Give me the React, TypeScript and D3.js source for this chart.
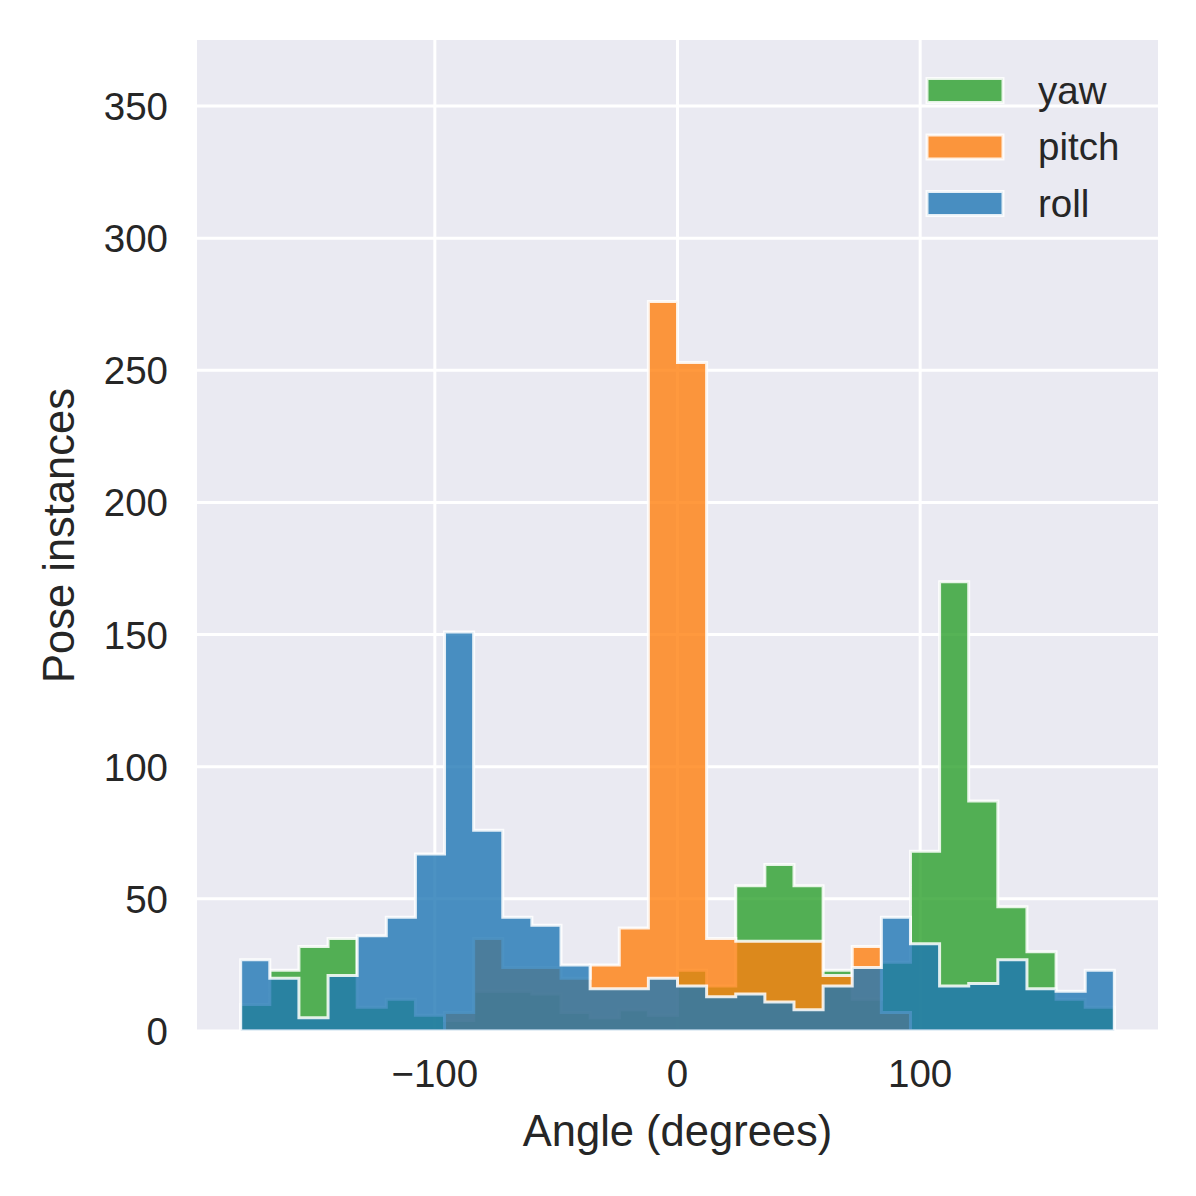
import React from 'react';
import { area, curveStepAfter, range, scaleLinear } from 'd3';

// histogram counts, 30 bins of 12 degrees from -180 to 180
const binEdges = range(-180, 181, 12);
const yawCounts = [10, 23, 32, 35, 9, 12, 6, 4, 15, 15, 14, 7, 5, 8, 6, 23, 17, 55, 63, 55, 23, 12, 26, 68, 170, 87, 47, 30, 12, 9];
const pitchCounts = [0, 0, 0, 0, 0, 0, 0, 7, 35, 24, 24, 20, 25, 39, 276, 253, 35, 34, 34, 34, 21, 32, 7, 0, 0, 0, 0, 0, 0, 0];
const rollCounts = [27, 20, 5, 21, 36, 43, 67, 151, 76, 43, 40, 25, 16, 16, 20, 17, 13, 14, 11, 8, 17, 24, 43, 33, 17, 18, 27, 16, 15, 23];

const seriesNames = ['yaw', 'pitch', 'roll'];
const seriesColors = ['#2ca02c', '#ff7f0e', '#1f77b4'];
const seriesCounts = [yawCounts, pitchCounts, rollCounts];

const xTicks = [-100, 0, 100];
const yTicks = [0, 50, 100, 150, 200, 250, 300, 350];

const FONT = '"Liberation Sans", Arial, sans-serif';
const TEXT = '#262626';

export default function App() {
  const plot = { left: 197, right: 1158, top: 40, bottom: 1031 };

  const x = scaleLinear().domain([-198, 198]).range([plot.left, plot.right]);
  const y = scaleLinear().domain([0, 375]).range([plot.bottom, plot.top]);

  const stepArea = area<[number, number]>()
    .x((d) => x(d[0]))
    .y0(y(0))
    .y1((d) => y(d[1]))
    .curve(curveStepAfter);

  const pathFor = (counts: number[]) => {
    const pts: [number, number][] = binEdges.map((e, i) => [
      e,
      counts[Math.min(i, counts.length - 1)],
    ]);
    return stepArea(pts) || '';
  };

  return (
    <svg
      width={1196}
      height={1196}
      style={{ position: 'absolute', left: 0, top: 0, background: '#fff' }}
    >
      <rect
        x={plot.left}
        y={plot.top}
        width={plot.right - plot.left}
        height={plot.bottom - plot.top}
        fill="#eaeaf2"
      />
      {/* grid */}
      {yTicks.map((t) => (
        <line
          key={`gy-${t}`}
          x1={plot.left}
          x2={plot.right}
          y1={y(t)}
          y2={y(t)}
          stroke="#fff"
          strokeWidth={3}
        />
      ))}
      {xTicks.map((t) => (
        <line
          key={`gx-${t}`}
          x1={x(t)}
          x2={x(t)}
          y1={plot.top}
          y2={plot.bottom}
          stroke="#fff"
          strokeWidth={3}
        />
      ))}

      {/* histograms: yaw, pitch, roll drawn in that order */}
      {seriesCounts.map((counts, i) => (
        <path
          key={seriesNames[i]}
          d={pathFor(counts)}
          fill={seriesColors[i]}
          fillOpacity={0.8}
          stroke="#fff"
          strokeOpacity={0.85}
          strokeWidth={3}
          strokeLinejoin="miter"
        />
      ))}

      {/* tick labels */}
      {yTicks.map((t) => (
        <text
          key={`ty-${t}`}
          x={168}
          y={y(t) + 14}
          textAnchor="end"
          fontFamily={FONT}
          fontSize={38.5}
          fill={TEXT}
        >
          {t}
        </text>
      ))}
      {xTicks.map((t) => (
        <text
          key={`tx-${t}`}
          x={x(t)}
          y={1087}
          textAnchor="middle"
          fontFamily={FONT}
          fontSize={38.5}
          fill={TEXT}
        >
          {t < 0 ? `\u2212${Math.abs(t)}` : t}
        </text>
      ))}

      {/* axis labels */}
      <text
        x={(plot.left + plot.right) / 2}
        y={1146}
        textAnchor="middle"
        fontFamily={FONT}
        fontSize={43.5}
        fill={TEXT}
      >
        Angle (degrees)
      </text>
      <text
        transform={`translate(74, ${(plot.top + plot.bottom) / 2}) rotate(-90)`}
        textAnchor="middle"
        fontFamily={FONT}
        fontSize={43.5}
        fill={TEXT}
      >
        Pose instances
      </text>

      {/* legend */}
      {seriesNames.map((name, i) => {
        const cy = 90.5 + i * 56.5;
        return (
          <g key={`lg-${name}`}>
            <rect
              x={927}
              y={cy - 12}
              width={76}
              height={24}
              fill={seriesColors[i]}
              fillOpacity={0.8}
              stroke="#fff"
              strokeOpacity={0.85}
              strokeWidth={3}
            />
            <text
              x={1038}
              y={cy + 13}
              fontFamily={FONT}
              fontSize={38.5}
              fill={TEXT}
            >
              {name}
            </text>
          </g>
        );
      })}
    </svg>
  );
}
